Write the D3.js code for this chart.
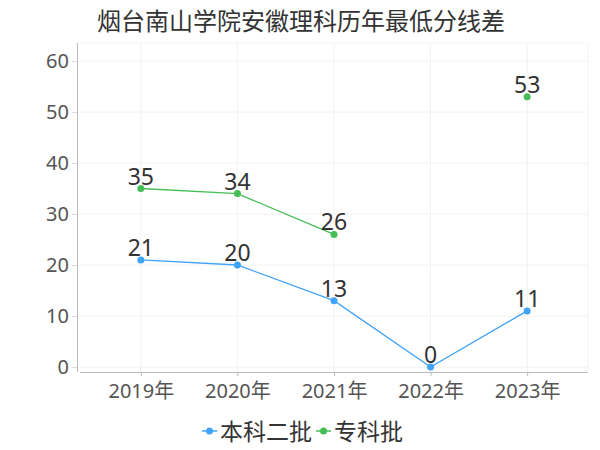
<!DOCTYPE html>
<html>
<head>
<meta charset="UTF-8">
<script src="https://cdn.jsdelivr.net/npm/d3@7"></script>
<style>
  body { margin: 0; background: #fff; }
  text { font-family: "Noto Sans", "Noto Sans CJK SC", sans-serif; }
</style>
</head>
<body>
<div id="chart"></div>
<script>
const years = ['2019年', '2020年', '2021年', '2022年', '2023年']
const benke2 = [21, 20, 13, 0, 11]
const zhuanke = [35, 34, 26, null, 53]
const yTicks = [0, 10, 20, 30, 40, 50, 60]
const seriesNames = ['本科二批', '专科批']
const colors = ['#3fa3f7', '#45bf55']

const width = 600, height = 450
const margin = { top: 43, right: 12, bottom: 78, left: 80 }

const svg = d3.select('#chart').append('svg')
  .attr('width', width)
  .attr('height', height)

svg.append('text')
  .attr('x', 301).attr('y', 30)
  .attr('text-anchor', 'middle')
  .attr('font-size', 24)
  .attr('fill', '#333')
  .text('烟台南山学院安徽理科历年最低分线差')

const x = d3.scalePoint()
  .domain(years)
  .range([margin.left, width - margin.right])
  .padding(0.63)

const y = d3.scaleLinear()
  .domain([0, 60])
  .range([367, 61])

// grid
const grid = svg.append('g')
grid.selectAll('.hg').data(yTicks).join('line')
  .attr('x1', margin.left).attr('x2', width - margin.right)
  .attr('y1', d => y(d)).attr('y2', d => y(d))
  .attr('stroke', '#f2f2f2')
grid.selectAll('.vg').data(years).join('line')
  .attr('x1', d => x(d)).attr('x2', d => x(d))
  .attr('y1', margin.top).attr('y2', 372)
  .attr('stroke', '#f2f2f2')
grid.append('line')
  .attr('x1', width - margin.right).attr('x2', width - margin.right)
  .attr('y1', margin.top).attr('y2', 372)
  .attr('stroke', '#f2f2f2')
grid.append('line')
  .attr('x1', margin.left).attr('x2', width - margin.right)
  .attr('y1', margin.top).attr('y2', margin.top)
  .attr('stroke', '#f5f5f5')

// y axis
const yAxis = svg.append('g')
  .attr('transform', 'translate(77,0)')
  .call(d3.axisLeft(y).tickValues(yTicks).tickSize(5).tickPadding(3))
yAxis.select('.domain').attr('stroke', '#bbb').attr('d', 'M0.5,' + margin.top + 'V372')
yAxis.selectAll('.tick line').attr('stroke', '#ddd')
yAxis.selectAll('.tick text').attr('font-size', 20).attr('fill', '#555')

// x axis
const xAxis = svg.append('g')
  .attr('transform', 'translate(0,372)')
  .call(d3.axisBottom(x).tickSize(4).tickPadding(8))
xAxis.select('.domain').attr('stroke', '#bbb').attr('d', 'M' + margin.left + ',0.5H' + (width - margin.right))
xAxis.selectAll('.tick line').attr('stroke', '#bbb')
xAxis.selectAll('.tick text').attr('font-size', 20).attr('fill', '#555')

const allSeries = [benke2, zhuanke]
const line = d3.line()
  .defined(d => d.v != null)
  .x(d => x(d.year))
  .y(d => y(d.v))

allSeries.forEach((vals, i) => {
  const pts = years.map((yr, j) => ({ year: yr, v: vals[j] }))
  const g = svg.append('g')
  g.append('path')
    .datum(pts)
    .attr('fill', 'none')
    .attr('stroke', colors[i])
    .attr('stroke-width', 1.3)
    .attr('d', line)
  const valid = pts.filter(d => d.v != null)
  g.selectAll('circle').data(valid).join('circle')
    .attr('cx', d => x(d.year)).attr('cy', d => y(d.v))
    .attr('r', 3.5)
    .attr('fill', colors[i])
  g.selectAll('text').data(valid).join('text')
    .attr('x', d => x(d.year)).attr('y', d => y(d.v) - 4)
    .attr('text-anchor', 'middle')
    .attr('font-size', 23)
    .attr('fill', '#333')
    .text(d => d.v)
})

// legend
const legendX = [202, 316]
seriesNames.forEach((name, i) => {
  const lg = svg.append('g').attr('transform', 'translate(' + legendX[i] + ',431)')
  lg.append('line').attr('x1', 0).attr('x2', 15)
    .attr('stroke', colors[i]).attr('stroke-width', 1.5)
  lg.append('circle').attr('cx', 7.5).attr('r', 3.5).attr('fill', colors[i])
  lg.append('text').attr('x', 18).attr('y', 9)
    .attr('font-size', 23).attr('fill', '#333')
    .text(name)
})
</script>
</body>
</html>
